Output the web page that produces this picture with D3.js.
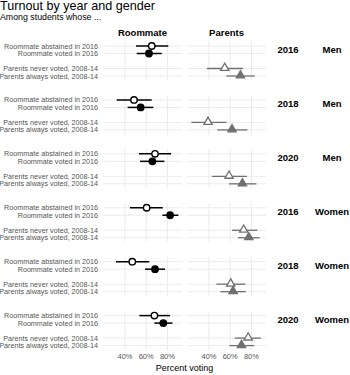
<!DOCTYPE html>
<html lang="en">
<head>
    <meta charset="UTF-8">
    <title>Turnout by year and gender</title>
    <script src="https://d3js.org/d3.v7.min.js"></script>
    <style>
        body { margin: 0; background: #fff; }
        svg { font-family: "Liberation Sans", Arial, sans-serif; display: block; }
    </style>
</head>
<body>
    <div id="chart"></div>
    <script>
        // facet rows
        const years = ["2016", "2018", "2020", "2016", "2018", "2020"];
        const genders = ["Men", "Men", "Men", "Women", "Women", "Women"];

        // y categories (blank slot between roommate and parents groups)
        const categories = ["Roommate abstained in 2016", "Roommate voted in 2016", "",
            "Parents never voted, 2008-14", "Parents always voted, 2008-14"];

        // estimates and intervals, one entry per facet row
        const abstEst = [65.2, 48.5, 68.3, 60.4, 46.9, 67.7];
        const abstLo  = [50.4, 32.2, 53.2, 44.7, 31.5, 53.5];
        const abstHi  = [80.8, 65.2, 83.4, 75.6, 62.9, 82.5];

        const votedEst = [62.6, 54.8, 65.8, 82.5, 68.3, 76.1];
        const votedLo  = [51.0, 42.5, 54.2, 75.2, 58.9, 67.7];
        const votedHi  = [74.6, 66.7, 77.1, 90.3, 77.7, 84.7];

        const neverEst = [54.8, 39.1, 58.9, 72.7, 60.5, 76.9];
        const neverLo  = [38.1, 23.4, 42.8, 61.7, 47.0, 64.2];
        const neverHi  = [72.1, 56.4, 75.8, 85.7, 74.3, 88.8];

        const alwaysEst = [69.6, 61.7, 71.5, 77.5, 62.7, 70.6];
        const alwaysLo  = [56.4, 47.9, 58.9, 67.4, 50.8, 59.5];
        const alwaysHi  = [83.1, 76.2, 84.7, 87.8, 74.6, 82.5];

        const tickValues = [40, 60, 80];
        const tickLabels = ["40%", "60%", "80%"];

        const width = 350, height = 375;
        const svg = d3.select('#chart').append('svg')
            .attr('width', width).attr('height', height);

        const xLeft = d3.scaleLinear().domain([19.3, 93.7]).range([103, 182]);
        const xRight = d3.scaleLinear().domain([19.3, 93.7]).range([187, 266]);
        const rowY = d3.scalePoint().domain(d3.range(6)).range([46, 315.6]);
        const catY = d3.scalePoint().domain(categories).range([0, 30]);

        const grid = '#ebebeb';
        const gray = '#707070';

        // titles
        svg.append('text').attr('x', 0).attr('y', 9.5)
            .attr('font-size', 12.6).attr('fill', '#000').text('Turnout by year and gender');
        svg.append('text').attr('x', 0).attr('y', 20.2)
            .attr('font-size', 8.8).attr('fill', '#000').text('Among students whose ...');

        svg.append('text').attr('x', 142.5).attr('y', 36).attr('text-anchor', 'middle')
            .attr('font-size', 9.5).attr('font-weight', 'bold').text('Roommate');
        svg.append('text').attr('x', 226.5).attr('y', 36).attr('text-anchor', 'middle')
            .attr('font-size', 9.5).attr('font-weight', 'bold').text('Parents');

        const rowData = d3.range(6).map(i => ({
            i,
            year: years[i],
            gender: genders[i],
            abst: [abstEst[i], abstLo[i], abstHi[i]],
            voted: [votedEst[i], votedLo[i], votedHi[i]],
            never: [neverEst[i], neverLo[i], neverHi[i]],
            always: [alwaysEst[i], alwaysLo[i], alwaysHi[i]]
        }));

        const realCats = categories.filter(c => c !== '');

        rowData.forEach(r => {
            const g = svg.append('g').attr('transform', `translate(0,${rowY(r.i)})`);
            const top = -4.5, bottom = 34.5;

            [xLeft, xRight].forEach(x => {
                g.selectAll(null).data(realCats).enter().append('line')
                    .attr('x1', x.range()[0]).attr('x2', x.range()[1])
                    .attr('y1', d => catY(d)).attr('y2', d => catY(d))
                    .attr('stroke', grid).attr('stroke-width', 1);
                g.selectAll(null).data(tickValues).enter().append('line')
                    .attr('x1', d => x(d)).attr('x2', d => x(d))
                    .attr('y1', top).attr('y2', bottom)
                    .attr('stroke', grid).attr('stroke-width', 1);
            });

            // y labels
            g.selectAll(null).data(realCats).enter().append('text')
                .attr('x', 98).attr('y', d => catY(d))
                .attr('dy', '0.35em').attr('text-anchor', 'end')
                .attr('font-size', 7.2).attr('fill', '#555').text(d => d);

            // strip labels
            const my = (catY(categories[0]) + catY(categories[1])) / 2;
            g.append('text').attr('x', 288).attr('y', my).attr('dy', '0.36em')
                .attr('text-anchor', 'middle').attr('font-size', 9.5)
                .attr('font-weight', 'bold').text(r.year);
            g.append('text').attr('x', 332).attr('y', my).attr('dy', '0.36em')
                .attr('text-anchor', 'middle').attr('font-size', 9.5)
                .attr('font-weight', 'bold').text(r.gender);

            // roommate panel
            const rm = [
                { cat: categories[0], v: r.abst, fill: '#fff' },
                { cat: categories[1], v: r.voted, fill: '#000' }
            ];
            g.selectAll(null).data(rm).enter().append('line')
                .attr('x1', d => xLeft(d.v[1])).attr('x2', d => xLeft(d.v[2]))
                .attr('y1', d => catY(d.cat)).attr('y2', d => catY(d.cat))
                .attr('stroke', '#000').attr('stroke-width', 1.5);
            g.selectAll(null).data(rm).enter().append('circle')
                .attr('cx', d => xLeft(d.v[0])).attr('cy', d => catY(d.cat))
                .attr('r', 3.2).attr('fill', d => d.fill)
                .attr('stroke', '#000').attr('stroke-width', 1.4);

            // parents panel
            const pa = [
                { cat: categories[3], v: r.never, fill: '#fff' },
                { cat: categories[4], v: r.always, fill: gray }
            ];
            g.selectAll(null).data(pa).enter().append('line')
                .attr('x1', d => xRight(d.v[1])).attr('x2', d => xRight(d.v[2]))
                .attr('y1', d => catY(d.cat)).attr('y2', d => catY(d.cat))
                .attr('stroke', gray).attr('stroke-width', 1.3);
            const tri = d3.symbol().type(d3.symbolTriangle).size(30);
            g.selectAll(null).data(pa).enter().append('path')
                .attr('d', tri)
                .attr('transform', d => `translate(${xRight(d.v[0])},${catY(d.cat) - 0.5})`)
                .attr('fill', d => d.fill)
                .attr('stroke', gray).attr('stroke-width', 1.3);
        });

        // x axis labels
        const axisY = 358.5;
        [xLeft, xRight].forEach(x => {
            svg.selectAll(null).data(tickValues).enter().append('text')
                .attr('x', d => x(d)).attr('y', axisY).attr('text-anchor', 'middle')
                .attr('font-size', 7.5).attr('fill', '#555')
                .text((d, i) => tickLabels[i]);
        });
        svg.append('text').attr('x', 184.5).attr('y', 371).attr('text-anchor', 'middle')
            .attr('font-size', 9).attr('fill', '#000').text('Percent voting');
    </script>
</body>
</html>
